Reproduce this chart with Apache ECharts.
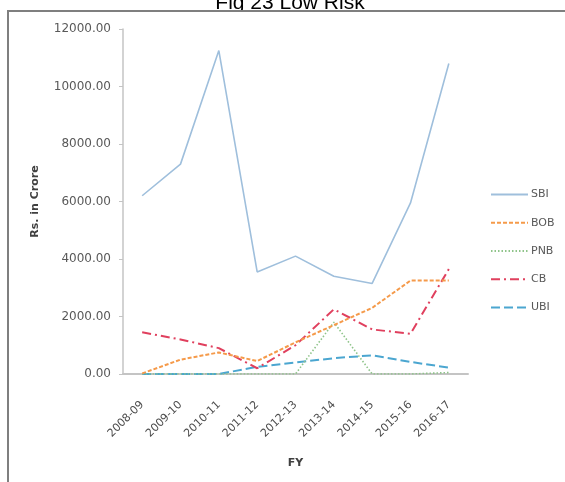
<!DOCTYPE html>
<html>
<head>
<meta charset="utf-8">
<script src="https://cdn.jsdelivr.net/npm/echarts@6/dist/echarts.min.js"></script>
<style>
  html, body { margin: 0; padding: 0; background: #fff; }
  #chart { width: 565px; height: 482px; }
</style>
</head>
<body>
<div id="chart"></div>
<script>
// Financial years on the category axis
const years = ['2008-09', '2009-10', '2010-11', '2011-12', '2012-13', '2013-14', '2014-15', '2015-16', '2016-17'];

// Low-risk exposure per bank, Rs. in Crore
const sbi = [6200, 7300, 11250, 3550, 4100, 3400, 3150, 5950, 10800];
const bob = [20, 500, 750, 450, 1100, 1700, 2300, 3250, 3250];
const pnb = [0, 0, 0, 0, 0, 1800, 0, 0, 50];
const cb  = [1450, 1200, 900, 200, 1000, 2250, 1550, 1400, 3650];
const ubi = [0, 0, 0, 250, 400, 550, 650, 420, 220];

const bankNames = ['SBI', 'BOB', 'PNB', 'CB', 'UBI'];
const bankValues = [sbi, bob, pnb, cb, ubi];

// Line look for each bank
const lineLooks = [
  { color: '#9fbfdc', width: 1.6, type: 'solid' },
  { color: '#f59a4a', width: 2, type: [4, 2] },
  { color: '#8fc48a', width: 1.6, type: [1.5, 2] },
  { color: '#e0405e', width: 2, type: [9, 4, 2, 4] },
  { color: '#4ba6d0', width: 2, type: [9, 4] }
];

const chart = echarts.init(document.getElementById('chart'), null, { renderer: 'canvas' });

const series = bankNames.map((name, i) => ({
  name: name,
  type: 'line',
  data: bankValues[i],
  symbol: 'none',
  smooth: false,
  lineStyle: {
    color: lineLooks[i].color,
    width: lineLooks[i].width,
    type: lineLooks[i].type
  },
  itemStyle: { color: lineLooks[i].color },
  z: 2 + (bankNames.length - i)
}));

chart.setOption({
  animation: false,
  backgroundColor: '#ffffff',
  graphic: [
    {
      type: 'text',
      x: 290,
      y: 3,
      style: {
        text: 'Fig 23 Low Risk',
        font: '21px "Liberation Sans", Arial, sans-serif',
        fill: '#000',
        textAlign: 'center',
        textVerticalAlign: 'middle'
      }
    },
    {
      type: 'rect',
      shape: { x: 190, y: 12, width: 200, height: 8 },
      style: { fill: '#ffffff' }
    },
    {
      type: 'rect',
      shape: { x: 8, y: 11, width: 620, height: 520 },
      style: { fill: 'none', stroke: '#7f7f7f', lineWidth: 2 }
    }
  ],
  grid: {
    left: 123,
    right: 97,
    top: 29,
    bottom: 108,
    containLabel: false
  },
  legend: {
    orient: 'vertical',
    left: 485,
    top: 184,
    itemWidth: 37,
    itemHeight: 14,
    itemGap: 17,
    itemStyle: { opacity: 0 },
    textStyle: {
      fontFamily: '"DejaVu Sans", sans-serif',
      fontSize: 11,
      color: '#595959',
      padding: [0, 0, 0, -2]
    },
    data: bankNames
  },
  xAxis: {
    type: 'category',
    data: years,
    boundaryGap: true,
    name: 'FY',
    nameLocation: 'middle',
    nameGap: 84,
    nameTextStyle: {
      fontFamily: '"DejaVu Sans", sans-serif',
      fontSize: 11,
      fontWeight: 'bold',
      color: '#404040'
    },
    axisLine: { lineStyle: { color: '#c4c4c4', width: 2 } },
    axisTick: { show: false },
    axisLabel: {
      interval: 0,
      rotate: 45,
      margin: 29,
      fontFamily: '"DejaVu Sans", sans-serif',
      fontSize: 11,
      color: '#4d4d4d'
    },
    splitLine: { show: false }
  },
  yAxis: {
    type: 'value',
    min: 0,
    max: 12000,
    interval: 2000,
    name: 'Rs. in Crore',
    nameLocation: 'middle',
    nameGap: 82,
    nameRotate: 90,
    nameTextStyle: {
      fontFamily: '"DejaVu Sans", sans-serif',
      fontSize: 11,
      fontWeight: 'bold',
      color: '#404040'
    },
    axisLine: { show: true, lineStyle: { color: '#c4c4c4', width: 1.5 } },
    axisTick: { show: true, inside: false, length: 4, lineStyle: { color: '#c4c4c4' } },
    axisLabel: {
      margin: 12,
      fontFamily: '"DejaVu Sans", sans-serif',
      fontSize: 12,
      color: '#595959',
      formatter: v => v.toFixed(2)
    },
    splitLine: { show: false }
  },
  series: series
});
</script>
</body>
</html>
